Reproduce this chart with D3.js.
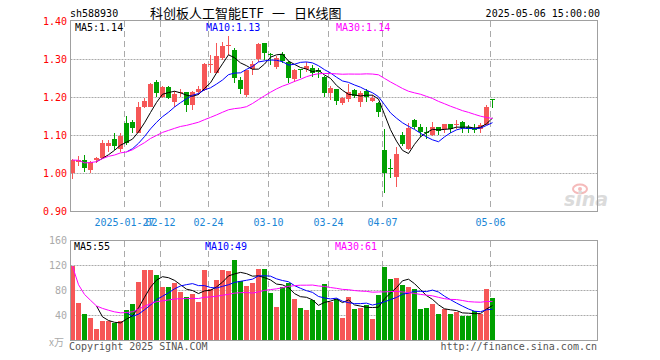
<!DOCTYPE html>
<html><head><meta charset="utf-8">
<script src="https://cdn.jsdelivr.net/npm/d3@7/dist/d3.min.js"></script>
<style>html,body{margin:0;padding:0;background:#fff}svg{display:block}</style>
</head><body>
<script>
const dates = [
"2025-01-14","2025-01-15","2025-01-16","2025-01-17","2025-01-20","2025-01-21","2025-01-22","2025-01-23","2025-01-24","2025-01-27",
"2025-02-05","2025-02-06","2025-02-07","2025-02-10","2025-02-11","2025-02-12","2025-02-13","2025-02-14","2025-02-17","2025-02-18",
"2025-02-19","2025-02-20","2025-02-21","2025-02-24","2025-02-25","2025-02-26","2025-02-27","2025-02-28",
"2025-03-03","2025-03-04","2025-03-05","2025-03-06","2025-03-07","2025-03-10","2025-03-11","2025-03-12","2025-03-13","2025-03-14",
"2025-03-17","2025-03-18","2025-03-19","2025-03-20","2025-03-21","2025-03-24","2025-03-25","2025-03-26","2025-03-27","2025-03-28","2025-03-31",
"2025-04-01","2025-04-02","2025-04-03","2025-04-07","2025-04-08","2025-04-09","2025-04-10","2025-04-11","2025-04-14","2025-04-15",
"2025-04-16","2025-04-17","2025-04-18","2025-04-21","2025-04-22","2025-04-23","2025-04-24","2025-04-25","2025-04-28","2025-04-29","2025-04-30",
"2025-05-06"];
const open  = [1.000,1.030,1.034,1.008,1.034,1.039,1.071,1.089,1.062,1.131,1.133,1.106,1.175,1.175,1.239,1.201,1.227,1.187,1.210,1.212,1.179,1.213,1.218,1.285,1.262,1.302,1.336,1.325,1.245,1.205,1.273,1.299,1.341,1.314,1.280,1.313,1.293,1.247,1.273,1.273,1.277,1.271,1.253,1.211,1.220,1.183,1.195,1.218,1.188,1.217,1.190,1.185,1.061,1.012,0.990,1.100,1.063,1.139,1.122,1.107,1.100,1.120,1.115,1.129,1.127,1.134,1.122,1.118,1.115,1.126,1.195];
const high  = [1.036,1.045,1.047,1.031,1.043,1.087,1.087,1.105,1.105,1.150,1.139,1.188,1.197,1.238,1.245,1.230,1.230,1.216,1.220,1.214,1.215,1.229,1.290,1.310,1.341,1.345,1.360,1.328,1.253,1.272,1.296,1.343,1.342,1.317,1.308,1.319,1.296,1.273,1.275,1.293,1.284,1.276,1.255,1.229,1.222,1.199,1.234,1.220,1.217,1.220,1.205,1.187,1.116,1.036,1.068,1.109,1.131,1.143,1.129,1.122,1.135,1.122,1.130,1.130,1.139,1.136,1.126,1.129,1.132,1.178,1.195];
const low   = [0.983,1.018,1.003,0.999,1.027,1.037,1.056,1.061,1.056,1.074,1.106,1.106,1.170,1.175,1.201,1.197,1.195,1.175,1.200,1.161,1.166,1.205,1.215,1.262,1.262,1.297,1.310,1.236,1.207,1.201,1.258,1.293,1.297,1.284,1.273,1.290,1.236,1.240,1.249,1.266,1.253,1.250,1.201,1.192,1.179,1.179,1.188,1.197,1.175,1.188,1.188,1.148,0.947,0.986,0.962,1.070,1.060,1.115,1.095,1.089,1.098,1.100,1.106,1.105,1.115,1.106,1.106,1.106,1.104,1.126,1.171];
const close = [1.034,1.033,1.013,1.030,1.039,1.078,1.080,1.071,1.098,1.078,1.119,1.175,1.190,1.234,1.210,1.227,1.197,1.208,1.213,1.179,1.213,1.220,1.287,1.288,1.308,1.334,1.338,1.249,1.220,1.271,1.287,1.340,1.315,1.311,1.302,1.296,1.249,1.271,1.270,1.282,1.262,1.265,1.211,1.225,1.190,1.197,1.212,1.203,1.211,1.201,1.197,1.161,1.001,1.010,1.050,1.076,1.119,1.122,1.109,1.105,1.120,1.111,1.129,1.115,1.129,1.118,1.115,1.114,1.126,1.174,1.194];
const volume = [118,59,41.6,35.7,18,31,30,27,31,48,57.6,93,112,112,104.5,85,85,90.7,77,69,74,61,112,81.6,96,112,111,128,94,86,91.7,113.6,113.6,75.7,53,85,92,65.6,51,48,64.5,48,89.6,61,65,35.7,69.3,49.6,51.7,55.5,33.6,72,117,97.6,99,88,84.8,81.6,49.6,51.2,57.6,41.6,49.6,41.6,45.3,38.9,39,46,42,82,67];
const tickDates  = ["2025-01-27","2025-02-12","2025-02-24","2025-03-10","2025-03-24","2025-04-07","2025-05-06"];
const tickLabels = ["2025-01-27","02-12","02-24","03-10","03-24","04-07","05-06"];
const priceTicks = [1.40,1.30,1.20,1.10,1.00,0.90];
const volTicks = [160,120,80,40];
const titleParts = ["科创板人工智能ETF","一","日K线图"];
const priceLegend = ["MA5:1.14","MA10:1.13","MA30:1.14"];
const volLegend = ["MA5:55","MA10:49","MA30:61"];
const maPeriods = [5,10,30];
const maColors = ["#000000","#0000ff","#ff00ff"];
const UP = "#f65757", DOWN = "#00a000";

const W = 660, H = 360, SLOTS = 88;
const svg = d3.select("body").append("svg").attr("width", W).attr("height", H)
  .style("font-family", "'DejaVu Sans Mono', 'Liberation Mono', monospace");

const x = d3.scaleLinear().domain([0, SLOTS]).range([70, 598]);
const y = d3.scaleLinear().domain([0.9, 1.4]).range([211, 21]);
const yv = d3.scaleLinear().domain([0, 160]).range([340, 240]);
const L = 70.5, R = 597.5;

const data = dates.map((d, i) => ({i, d, o: open[i], h: high[i], l: low[i], c: close[i], v: volume[i]}));

function ma(arr, n) {
  return arr.map((_, i) => {
    if (n < 30 && i < n - 1) return null;
    return d3.mean(arr.slice(Math.max(0, i - n + 1), i + 1));
  });
}

// header
svg.append("text").attr("x", 70).attr("y", 17).attr("font-size", 10).attr("fill", "#000").text("sh588930");
const titleX = [150, 272, 294];
titleParts.forEach((t, k) => {
  svg.append("text").attr("x", titleX[k]).attr("y", 18).attr("font-size", 13)
    .attr("font-family", "'Noto Sans CJK SC', sans-serif").attr("fill", "#000").text(t);
});
svg.append("text").attr("x", 600).attr("y", 17).attr("font-size", 10).attr("text-anchor", "end").attr("fill", "#000").text("2025-05-06 15:00:00");

// grids
const g = svg.append("g");
priceTicks.slice(1, -1).forEach(p => {
  const yy = Math.round(y(p)) + 0.5;
  g.append("line").attr("x1", L).attr("x2", R).attr("y1", yy).attr("y2", yy)
    .attr("stroke", "#aaa").attr("stroke-dasharray", "2,1");
});
volTicks.slice(1).forEach(v => {
  const yy = Math.round(yv(v)) + 0.5;
  g.append("line").attr("x1", L).attr("x2", R).attr("y1", yy).attr("y2", yy)
    .attr("stroke", "#aaa").attr("stroke-dasharray", "2,1");
});
tickDates.forEach((td, k) => {
  const i = dates.indexOf(td);
  const xx = Math.round(x(i)) + 0.5;
  g.append("line").attr("x1", xx).attr("x2", xx).attr("y1", 21).attr("y2", 211)
    .attr("stroke", "#aaa").attr("stroke-dasharray", "6,4");
  g.append("line").attr("x1", xx).attr("x2", xx).attr("y1", 241).attr("y2", 340)
    .attr("stroke", "#aaa").attr("stroke-dasharray", "6,4");
  svg.append("text").attr("x", xx).attr("y", 225.5).attr("font-size", 10).attr("text-anchor", "middle")
    .attr("fill", "#1a86d6").text(tickLabels[k]);
});

// sina watermark
const wm = svg.append("g").attr("opacity", 0.75);
wm.append("ellipse").attr("cx", 580).attr("cy", 189).attr("rx", 7).attr("ry", 4.5).attr("fill", "none").attr("stroke", "#f2a3a3").attr("stroke-width", 2);
wm.append("circle").attr("cx", 580).attr("cy", 189).attr("r", 2).attr("fill", "#f2a3a3");
wm.append("text").attr("x", 564).attr("y", 206).attr("font-size", 19).attr("font-style", "italic").attr("font-weight", "bold")
  .attr("font-family", "'DejaVu Sans', sans-serif").attr("fill", "#cfcfcf").text("sina");

// candles
const cg = svg.append("g").attr("shape-rendering", "crispEdges");
cg.selectAll("rect.wick").data(data).join("rect").attr("class", "wick")
  .attr("x", d => x(d.i) + 2).attr("width", 1)
  .attr("y", d => y(d.h)).attr("height", d => Math.max(1, y(d.l) - y(d.h)))
  .attr("fill", d => d.c >= d.o ? UP : DOWN);
cg.selectAll("rect.body").data(data).join("rect").attr("class", "body")
  .attr("x", d => x(d.i)).attr("width", 5)
  .attr("y", d => y(Math.max(d.o, d.c))).attr("height", d => Math.max(1, Math.abs(y(d.o) - y(d.c))))
  .attr("fill", d => d.c >= d.o ? UP : DOWN);

// volume bars
cg.selectAll("rect.vol").data(data).join("rect").attr("class", "vol")
  .attr("x", d => x(d.i)).attr("width", 5)
  .attr("y", d => yv(d.v)).attr("height", d => yv(0) - yv(d.v))
  .attr("fill", d => d.c >= d.o ? UP : DOWN);

// MA lines
maPeriods.forEach((n, k) => {
  const pm = ma(close, n), vm = ma(volume, n);
  const lp = d3.line().defined(d => d != null).x((d, i) => x(i) + 2.5).y(d => y(d));
  const lv = d3.line().defined(d => d != null).x((d, i) => x(i) + 2.5).y(d => yv(d));
  svg.append("path").attr("d", lp(pm)).attr("fill", "none").attr("stroke", maColors[k]).attr("stroke-width", 1);
  svg.append("path").attr("d", lv(vm)).attr("fill", "none").attr("stroke", maColors[k]).attr("stroke-width", 1);
});

// frames
svg.append("rect").attr("x", L).attr("y", 20.5).attr("width", R - L).attr("height", 191).attr("fill", "none").attr("stroke", "#a0a0a0");
svg.append("rect").attr("x", L).attr("y", 240.5).attr("width", R - L).attr("height", 100).attr("fill", "none").attr("stroke", "#a0a0a0");

// axis labels
priceTicks.forEach(p => {
  svg.append("text").attr("x", 67).attr("y", y(p) + 3.5).attr("font-size", 10).attr("text-anchor", "end")
    .attr("fill", "#ff0000").text(p.toFixed(2));
});
volTicks.forEach(v => {
  svg.append("text").attr("x", 67).attr("y", yv(v) + 3.5).attr("font-size", 10).attr("text-anchor", "end")
    .attr("fill", "#aaa").text(v);
});
svg.append("text").attr("x", 49).attr("y", 346).attr("font-size", 10).attr("fill", "#aaa")
  .attr("font-family", "'Noto Sans CJK SC', sans-serif").text("x万");

// legends
const legX = [75, 206, 336];
priceLegend.forEach((t, k) => {
  svg.append("text").attr("x", legX[k]).attr("y", 31).attr("font-size", 10).attr("fill", maColors[k]).text(t);
});
volLegend.forEach((t, k) => {
  svg.append("text").attr("x", legX[k] - 1).attr("y", 250).attr("font-size", 10).attr("fill", maColors[k]).text(t);
});

// footer
svg.append("text").attr("x", 69).attr("y", 350).attr("font-size", 10).attr("fill", "#555").text("Copyright 2025 SINA.COM");
svg.append("text").attr("x", 597).attr("y", 350).attr("font-size", 10).attr("text-anchor", "end").attr("fill", "#555").text("http://finance.sina.com.cn");
</script>
</body></html>
